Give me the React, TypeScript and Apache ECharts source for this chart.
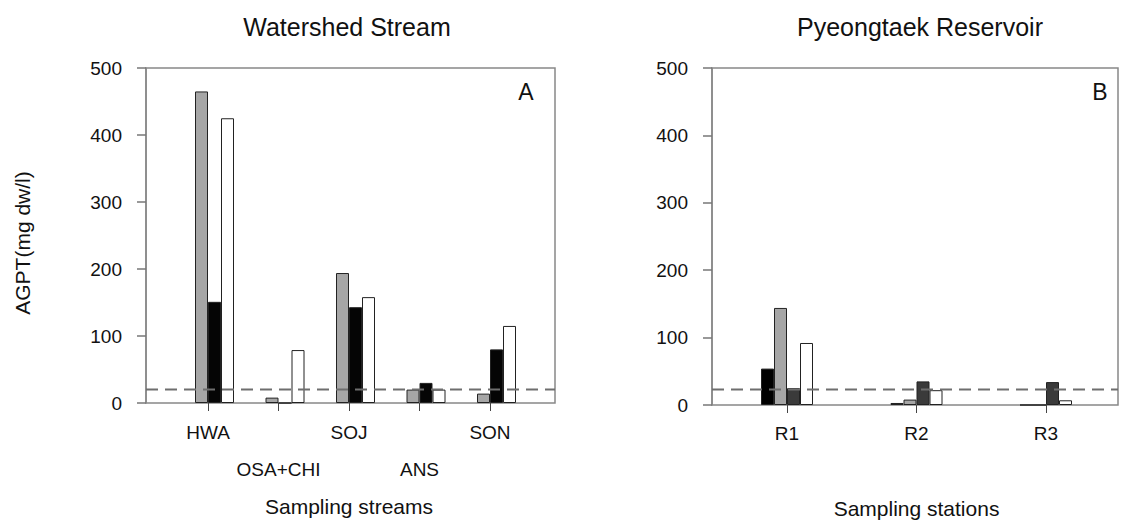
import React, { useEffect, useRef } from "react";
import * as echarts from "echarts";

// ---- data ----
const streamCategories = ["HWA", "OSA+CHI", "SOJ", "ANS", "SON"];
const streamSeries1: (number | null)[] = [null, null, null, null, null];
const streamSeries2 = [465, 8, 194, 20, 14];
const streamSeries3 = [151, 0, 143, 30, 80];
const streamSeries4 = [425, 79, 158, 20, 115];
const streamThreshold = 20;

const stationCategories = ["R1", "R2", "R3"];
const stationSeries1 = [54, 3, 0];
const stationSeries2 = [144, 8, 0];
const stationSeries3 = [25, 35, 34];
const stationSeries4 = [92, 22, 7];
const stationThreshold = 23;

const yMin = 0;
const yMax = 500;
const yInterval = 100;

const FONT = "'Liberation Sans', Arial, Helvetica, sans-serif";

export default function App() {
  const ref = useRef<HTMLDivElement>(null);

  useEffect(() => {
    if (!ref.current) return;
    const chart = echarts.init(ref.current, undefined, { renderer: "svg" });

    const frameGrid = (left: number, top: number, width: number, height: number) => ({
      left,
      top,
      width,
      height,
      show: true,
      borderColor: "#888888",
      borderWidth: 1.5,
      backgroundColor: "transparent",
    });
    const barGrid = (left: number, top: number, width: number, height: number) => ({
      left,
      top,
      width,
      height,
    });

    const hiddenX = (gridIndex: number) => ({
      type: "value",
      gridIndex,
      min: 0,
      max: 1,
      show: false,
    });

    const catX = (
      gridIndex: number,
      data: string[],
      mode: "even" | "odd" | "all",
      margin: number,
      name?: string
    ) => ({
      type: "category",
      gridIndex,
      position: "bottom",
      offset: 0,
      data,
      axisLine: { show: false },
      axisTick:
        mode === "odd"
          ? { show: false }
          : { show: true, alignWithLabel: true, interval: 0, length: 8, lineStyle: { color: "#444", width: 1 } },
      axisLabel: {
        interval: mode === "all" ? 0 : (i: number) => (mode === "even" ? i % 2 === 0 : i % 2 === 1),
        margin,
        fontSize: 19,
        color: "#111",
        fontFamily: FONT,
      },
      splitLine: { show: false },
      name: name || "",
      nameLocation: "middle",
      nameGap: 93,
      nameTextStyle: { fontSize: 21, color: "#111", fontFamily: FONT },
    });

    const visY = (gridIndex: number) => ({
      type: "value",
      gridIndex,
      min: yMin,
      max: yMax,
      interval: yInterval,
      axisLine: { show: true, lineStyle: { color: "#888888", width: 1.5 } },
      axisTick: { show: true, length: 9, lineStyle: { color: "#777", width: 1.5 } },
      axisLabel: { fontSize: 19, color: "#111", margin: 24, fontFamily: FONT },
      splitLine: { show: false },
    });
    const hidY = (gridIndex: number) => ({
      type: "value",
      gridIndex,
      min: yMin,
      max: yMax,
      interval: yInterval,
      show: false,
    });

    const bar = (
      data: (number | null)[],
      xAxisIndex: number,
      yAxisIndex: number,
      color: string,
      name: string
    ) => ({
      type: "bar",
      name,
      xAxisIndex,
      yAxisIndex,
      data,
      barWidth: 13,
      barGap: "0%",
      itemStyle: { color, borderColor: "#222", borderWidth: 1 },
    });

    const dashed = (t: number, xAxisIndex: number, yAxisIndex: number) => ({
      type: "line",
      xAxisIndex,
      yAxisIndex,
      data: [
        [0, t],
        [1, t],
      ],
      symbol: "none",
      silent: true,
      z: 5,
      lineStyle: { color: "#6e6e6e", width: 2, type: [12, 7] },
    });

    const txt = (text: string, x: number, y: number, size: number, rotation = 0) => ({
      type: "text",
      x,
      y,
      rotation,
      style: {
        text,
        fontSize: size,
        fontFamily: FONT,
        fill: "#111",
        textAlign: "center",
        textVerticalAlign: "middle",
      },
    });

    chart.setOption({
      animation: false,
      backgroundColor: "#ffffff",
      grid: [
        frameGrid(146, 68, 409, 335),
        barGrid(172.75, 68, 352.5, 335),
        frameGrid(712, 68, 406, 337),
        barGrid(722.25, 68, 388.5, 337),
      ],
      xAxis: [
        hiddenX(0),
        catX(1, streamCategories, "even", 20, "Sampling streams"),
        catX(1, streamCategories, "odd", 57),
        hiddenX(2),
        catX(3, stationCategories, "all", 19, "Sampling stations"),
      ],
      yAxis: [visY(0), hidY(1), visY(2), hidY(3)],
      series: [
        bar(streamSeries1, 1, 1, "#000000", "Series 1"),
        bar(streamSeries2, 1, 1, "#a6a6a6", "Series 2"),
        bar(streamSeries3, 1, 1, "#050505", "Series 3"),
        bar(streamSeries4, 1, 1, "#ffffff", "Series 4"),
        dashed(streamThreshold, 0, 0),
        bar(stationSeries1, 4, 3, "#000000", "Series 1"),
        bar(stationSeries2, 4, 3, "#a6a6a6", "Series 2"),
        bar(stationSeries3, 4, 3, "#3a3a3a", "Series 3"),
        bar(stationSeries4, 4, 3, "#ffffff", "Series 4"),
        dashed(stationThreshold, 3, 2),
      ],
      graphic: [
        txt("Watershed Stream", 347, 27, 25),
        txt("Pyeongtaek Reservoir", 920, 27, 25),
        txt("A", 526, 92, 23),
        txt("B", 1100, 92, 23),
        txt("AGPT(mg dw/l)", 22, 243, 21, Math.PI / 2),
      ],
    });

    return () => chart.dispose();
  }, []);

  return (
    <div
      ref={ref}
      style={{ position: "fixed", left: 0, top: 0, width: 1125, height: 526, background: "#fff" }}
    />
  );
}
